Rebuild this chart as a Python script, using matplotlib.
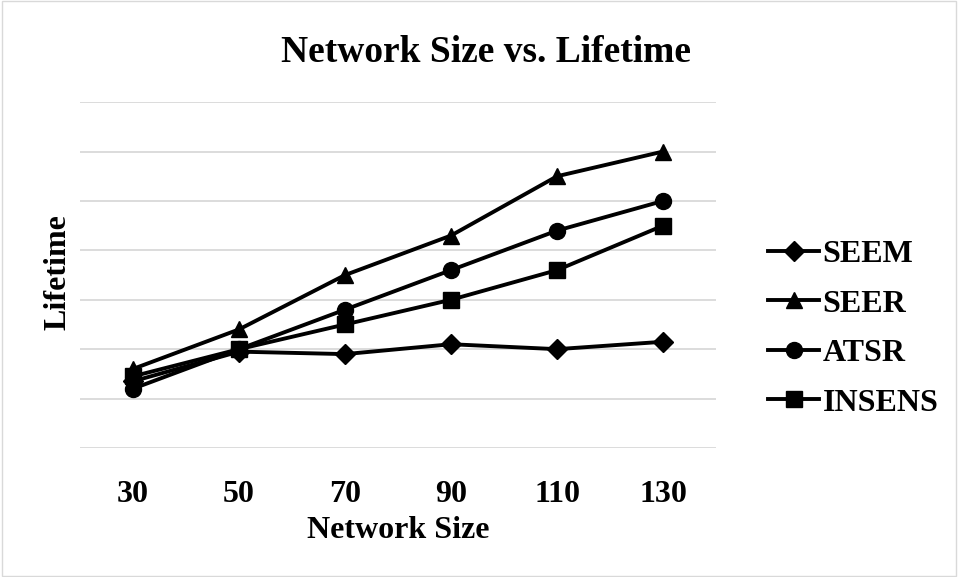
import matplotlib.pyplot as plt

# data (y in gridline units, no tick labels shown)
sizes = ['30', '50', '70', '90', '110', '130']
seem = [1.35, 1.95, 1.9, 2.1, 2.0, 2.15]
seer = [1.6, 2.4, 3.5, 4.3, 5.5, 6.0]
atsr = [1.2, 2.0, 2.8, 3.6, 4.4, 5.0]
insens = [1.45, 2.0, 2.5, 3.0, 3.6, 4.5]

plt.rcParams['font.family'] = ['Liberation Serif', 'DejaVu Serif']
plt.rcParams['font.weight'] = 'bold'

fig = plt.figure(figsize=(9.58, 5.77), dpi=100)
ax = fig.add_axes([0.0835, 0.2236, 0.664, 0.5994])

x = range(len(sizes))
ax.plot(x, seem, color='black', lw=2.8, marker='D', ms=10, label='SEEM')
ax.plot(x, seer, color='black', lw=2.8, marker='^', ms=11.5, label='SEER')
ax.plot(x, atsr, color='black', lw=2.8, marker='o', ms=11.5, label='ATSR')
ax.plot(x, insens, color='black', lw=2.8, marker='s', ms=11, label='INSENS')

ax.set_xlim(-0.5, len(sizes) - 0.5)
ax.set_ylim(0, 7)
ax.set_yticks(range(0, 8))
ax.set_yticklabels([])
ax.set_xticks(list(x))
ax.set_xticklabels(sizes, fontsize=23, fontweight='bold')
ax.tick_params(length=0, pad=23)
ax.grid(axis='y', color='#d9d9d9', lw=1.3)
ax.set_axisbelow(True)
for s in ax.spines.values():
    s.set_visible(False)

ax.set_xlabel('Network Size', fontsize=23, fontweight='bold', labelpad=5)
fig.text(58 / 958, 1 - 272 / 577, 'Lifetime', rotation=90, ha='center', va='center',
         fontsize=23, fontweight='bold')
fig.text(486 / 958, 1 - 53 / 577, 'Network Size vs. Lifetime', ha='center', va='center',
         fontsize=27, fontweight='bold')

ax.legend(loc='center left', bbox_to_anchor=(1.057, 0.345), frameon=False,
          borderpad=0, handlelength=1.6, handletextpad=0.1, labelspacing=0.63,
          prop={'weight': 'bold', 'size': 23})

# light outer border
fig.patches.append(plt.Rectangle((0.002, 0.002), 0.996, 0.996, transform=fig.transFigure,
                                 fill=False, edgecolor='#d9d9d9', lw=1))

fig.savefig('out.png', dpi=100)
